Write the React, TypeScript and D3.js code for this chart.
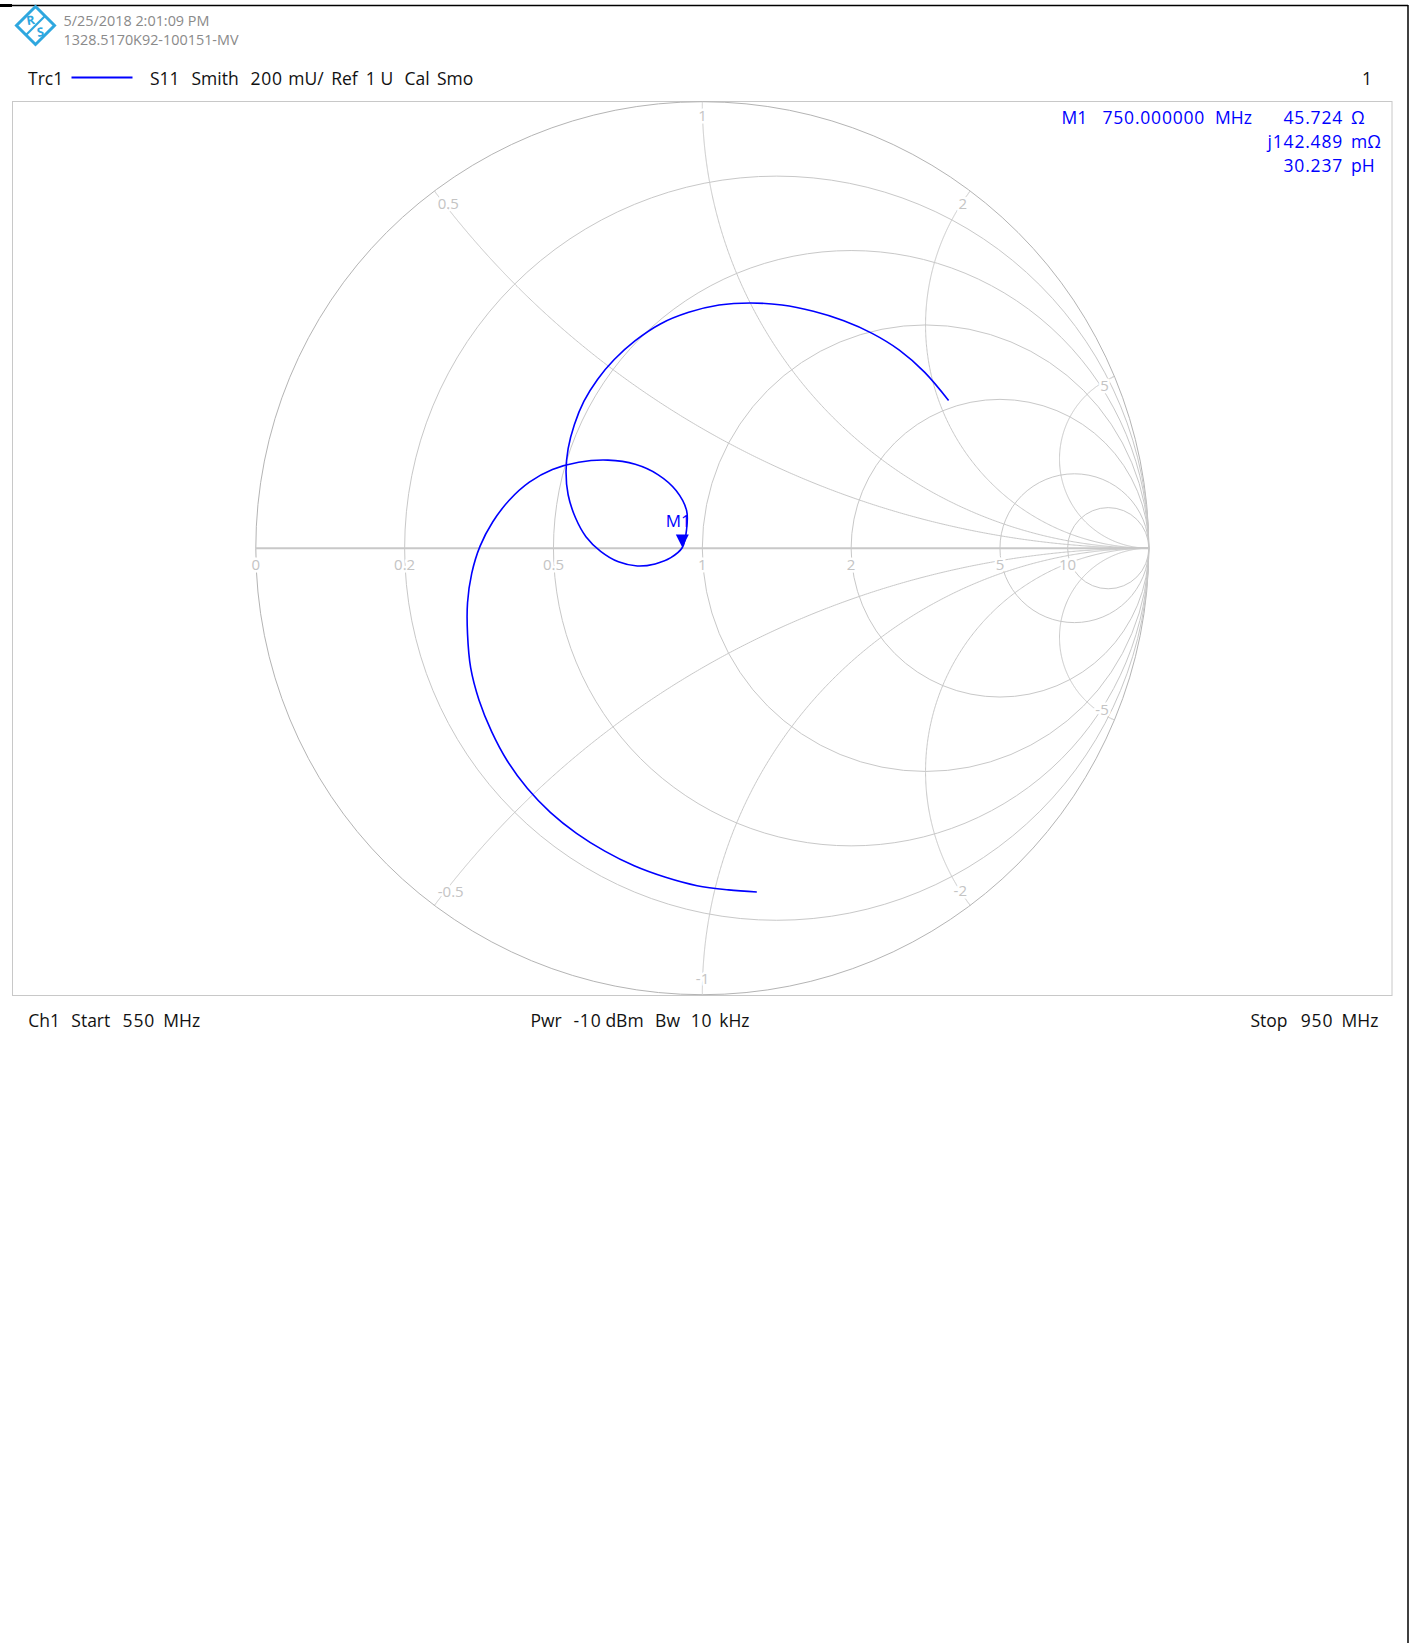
import React from 'react';
import * as d3 from 'd3';

const W = 1414;
const H = 1643;

// Smith grid
const resistanceValues = [0, 0.2, 0.5, 1, 2, 5, 10];
const resistanceLabels = ['0', '0.2', '0.5', '1', '2', '5', '10'];
const reactanceValues = [0.5, 1, 2, 5, -0.5, -1, -2, -5];
const reactanceLabels = ['0.5', '1', '2', '5', '-0.5', '-1', '-2', '-5'];

// Trace S11 reflection coefficient (real / imaginary), 550 MHz -> 950 MHz
const traceRe = [
  0.1221, 0.0587, -0.0117, -0.0822, -0.1526, -0.2183, -0.2817, -0.3404, -0.392, -0.4366,
  -0.4718, -0.5, -0.5188, -0.5258, -0.5258, -0.5164, -0.4977, -0.4695, -0.4319, -0.3873,
  -0.3357, -0.277, -0.2113, -0.1502, -0.0986, -0.0587, -0.0352, -0.0352, -0.0447, -0.0704,
  -0.1056, -0.1455, -0.1878, -0.2277, -0.2606, -0.284, -0.3005, -0.3052, -0.3005, -0.2864,
  -0.2653, -0.2347, -0.1972, -0.1502, -0.0939, -0.0305, 0.0376, 0.108, 0.1784, 0.2488,
  0.3169, 0.3803, 0.4413, 0.4977, 0.5516];
const traceIm = [
  -0.77, -0.7653, -0.7559, -0.7371, -0.7113, -0.6784, -0.6385, -0.5915, -0.5376, -0.4765,
  -0.4108, -0.3404, -0.2676, -0.1925, -0.1221, -0.0563, 0.0047, 0.0587, 0.108, 0.1479,
  0.1761, 0.1925, 0.1972, 0.1878, 0.1643, 0.1291, 0.0845, 0.0423, 0.0015, -0.0211,
  -0.0352, -0.0399, -0.0305, -0.007, 0.0258, 0.0681, 0.1197, 0.1714, 0.223, 0.277,
  0.3286, 0.3779, 0.4225, 0.4648, 0.5023, 0.5282, 0.5446, 0.5493, 0.5446, 0.5305,
  0.5094, 0.4812, 0.4437, 0.3944, 0.331];

// Marker M1
const markerName = 'M1';
const markerFreq = '750.000000';
const markerRe = -0.0447;
const markerIm = 0.0015;
const markerValues = ['45.724', 'j142.489', '30.237'];
const markerUnits = ['Ω', 'mΩ', 'pH'];

const headerDate = '5/25/2018 2:01:09 PM';
const headerId = '1328.5170K92-100151-MV';

const FONT = "'Open Sans', 'Noto Sans', sans-serif";
const GRID = '#c8c8c8';
const LABEL = '#c4c4c4';
const BLUE = '#0000ff';

const LABEL_SIZE = 15;
const charW = (c: string) => (c === '.' ? 0.27 : c === '-' ? 0.32 : 0.572);
const textW = (t: string) => t.split('').reduce((a, c) => a + charW(c), 0) * LABEL_SIZE;

export default function App() {
  const cx = 702.3, cy = 548.2, R = 446.5;
  const sx = d3.scaleLinear().domain([-1, 1]).range([cx - R, cx + R]);
  const sy = d3.scaleLinear().domain([-1, 1]).range([cy + R, cy - R]);
  const k = R;

  const line = d3.line<[number, number]>().x(d => sx(d[0])).y(d => sy(d[1]));

  const reactPath = (x: number) => {
    const pts: [number, number][] = [];
    const n = 600;
    for (let i = 0; i <= n; i++) {
      const t = i / n;
      const r = t >= 1 ? 1e6 : Math.pow(t / (1 - t), 1.6);
      const ar = r - 1, ai = x, br = r + 1, bi = x;
      const den = br * br + bi * bi;
      pts.push([(ar * br + ai * bi) / den, (ai * br - ar * bi) / den]);
    }
    return line(pts) || '';
  };

  // label: anchor a few px along the reactance arc from the unit circle,
  // text box placed with its nearest corner on the anchor
  const reactLabelPos = (x: number, label: string) => {
    const ax = Math.abs(x);
    const sg = x > 0 ? 1 : -1;
    const rho = 1 / ax;
    const px = (ax * ax - 1) / (ax * ax + 1);
    const py = (2 * ax) / (ax * ax + 1);
    const th = Math.atan2(py - rho, px - 1);
    const s = 8;
    const th2 = th + s / (rho * k);
    const gx = 1 + rho * Math.cos(th2);
    const gy = (rho + rho * Math.sin(th2)) * sg;
    const tx = -Math.sin(th2);
    const ty = Math.cos(th2) * sg;
    const dxs = tx, dys = -ty;
    const clamp = (v: number) => Math.max(-1, Math.min(1, v / 0.5));
    const w = textW(label) - 3;
    const cy2 = clamp(dys);
    const h = cy2 < 0 ? 17 : 11;
    return [sx(gx) + clamp(dxs) * w / 2, sy(gy) + cy2 * h / 2];
  };

  const curve = d3.line<[number, number]>().x(d => sx(d[0])).y(d => sy(d[1])).curve(d3.curveCatmullRom.alpha(0.5));
  const tracePts: [number, number][] = traceRe.map((v, i) => [v, traceIm[i]]);

  const halo = { stroke: '#ffffff', strokeWidth: 5, paintOrder: 'stroke' as any, strokeLinejoin: 'round' as any };
  const mx = sx(markerRe), my = sy(markerIm);
  const numLS = 0.8;

  return (
    <svg width={W} height={H} style={{ position: 'absolute', left: 0, top: 0, background: '#fff' }} fontFamily={FONT}>
      <rect x={0} y={0} width={W} height={H} fill="#fff" />
      {/* frame */}
      <line x1={0} y1={5.5} x2={1408} y2={5.5} stroke="#000" strokeWidth={1.5} />
      <line x1={0} y1={5.5} x2={12} y2={5.5} stroke="#000" strokeWidth={3} />
      <line x1={1408} y1={5} x2={1408} y2={H} stroke="#000" strokeWidth={1.5} />

      {/* logo */}
      <g transform="translate(35.5,25.5)">
        <path d="M0,-19 L19,0 L0,19 L-19,0 Z" fill="none" stroke="#2ea7df" strokeWidth={3} />
        <line x1={-9.5} y1={9.5} x2={9.5} y2={-9.5} stroke="#2ea7df" strokeWidth={2.2} />
        <text x={-5} y={-1} fontSize={12.5} fill="#2ea7df" textAnchor="middle" fontWeight="bold" transform="rotate(-10,-5,-5)">R</text>
        <text x={5} y={11} fontSize={12.5} fill="#2ea7df" textAnchor="middle" fontWeight="bold" transform="rotate(-10,5,7)">S</text>
      </g>
      <text x={63.5} y={25.5} fontSize={14.4} fill="#8a8a8a">{headerDate}</text>
      <text x={63.5} y={45} fontSize={14.4} fill="#8a8a8a">{headerId}</text>

      {/* trace header */}
      <g fontSize={17.5} fill="#111">
        <text x={28} y={84.5}>Trc1</text>
        <line x1={71.5} y1={77.5} x2={132.5} y2={77.5} stroke={BLUE} strokeWidth={2} />
        <text x={150} y={84.5}>S11</text>
        <text x={191.5} y={84.5}>Smith</text>
        <text x={250.5} y={84.5} letterSpacing={numLS}>200</text>
        <text x={288.3} y={84.5}>mU/</text>
        <text x={331.2} y={84.5}>Ref</text>
        <text x={365.8} y={84.5}>1</text>
        <text x={380.5} y={84.5}>U</text>
        <text x={404.5} y={84.5}>Cal</text>
        <text x={437} y={84.5}>Smo</text>
        <text x={1367} y={84.5} textAnchor="middle">1</text>
      </g>

      {/* plot box */}
      <rect x={12.5} y={101.5} width={1379.5} height={894} fill="none" stroke="#c8c8c8" strokeWidth={1} />

      {/* grid */}
      <g fill="none" stroke={GRID} strokeWidth={1}>
        {resistanceValues.map((r, i) => (
          <circle key={'r' + i} cx={sx(r / (1 + r))} cy={sy(0)} r={k / (1 + r)}
            stroke={r === 0 ? '#b4b4b4' : GRID} />
        ))}
        {reactanceValues.map((x, i) => (
          <path key={'x' + i} d={reactPath(x)} />
        ))}
        <line x1={sx(-1)} y1={sy(0)} x2={sx(1)} y2={sy(0)} strokeWidth={2} />
      </g>

      {/* grid labels */}
      <g fontSize={LABEL_SIZE} fill={LABEL} textAnchor="middle" dominantBaseline="central">
        {resistanceValues.map((r, i) => (
          <text key={'rl' + i} x={sx((r - 1) / (r + 1))} y={sy(0) + 16} {...halo}>{resistanceLabels[i]}</text>
        ))}
        {reactanceValues.map((x, i) => {
          const [lx, ly] = reactLabelPos(x, reactanceLabels[i]);
          return (
            <text key={'xl' + i} x={lx} y={ly} {...halo}>{reactanceLabels[i]}</text>
          );
        })}
      </g>

      {/* trace */}
      <path d={curve(tracePts) || ''} fill="none" stroke={BLUE} strokeWidth={1.6} />

      {/* marker */}
      <path d={`M${mx - 6.5},${my - 13} L${mx + 6.5},${my - 13} L${mx},${my} Z`} fill={BLUE} />
      <text x={mx - 4} y={my - 21} fontSize={17} fill={BLUE} textAnchor="middle">{markerName}</text>

      {/* marker info */}
      <g fontSize={17.5} fill={BLUE}>
        <text x={1061.5} y={124}>{markerName}</text>
        <text x={1102.5} y={124} letterSpacing={numLS}>{markerFreq}</text>
        <text x={1215} y={124}>MHz</text>
        {markerValues.map((v, i) => (
          <g key={'mv' + i}>
            <text x={1343} y={124 + i * 24} textAnchor="end" letterSpacing={numLS}>{v}</text>
            <text x={1351} y={124 + i * 24}>{markerUnits[i]}</text>
          </g>
        ))}
      </g>

      {/* footer */}
      <g fontSize={17.5} fill="#111">
        <text x={28.3} y={1027}>Ch1</text>
        <text x={71.3} y={1027}>Start</text>
        <text x={122.6} y={1027} letterSpacing={numLS}>550</text>
        <text x={200.2} y={1027} textAnchor="end">MHz</text>
        <text x={530.4} y={1027}>Pwr</text>
        <text x={573.4} y={1027} letterSpacing={numLS}>-10</text>
        <text x={643.6} y={1027} textAnchor="end">dBm</text>
        <text x={655.1} y={1027}>Bw</text>
        <text x={690.8} y={1027} letterSpacing={numLS}>10</text>
        <text x={749.5} y={1027} textAnchor="end">kHz</text>
        <text x={1250.5} y={1027}>Stop</text>
        <text x={1300.8} y={1027} letterSpacing={numLS}>950</text>
        <text x={1378.4} y={1027} textAnchor="end">MHz</text>
      </g>
    </svg>
  );
}
